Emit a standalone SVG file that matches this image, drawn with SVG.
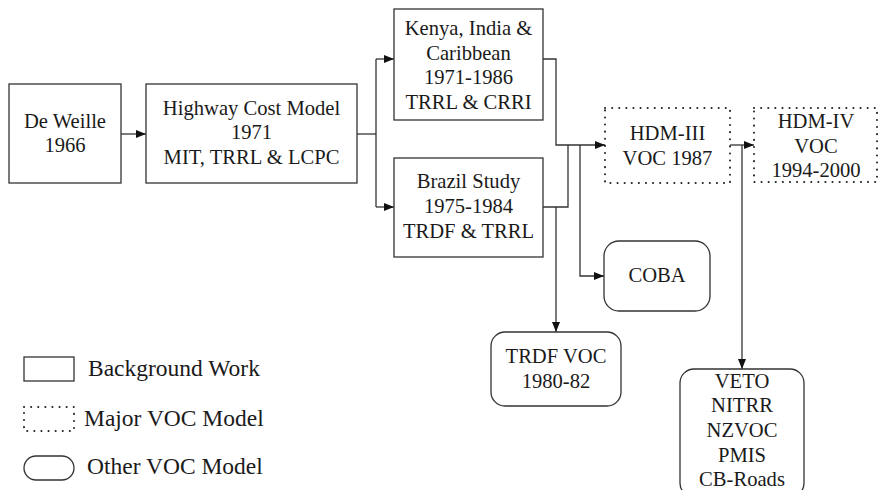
<svg xmlns="http://www.w3.org/2000/svg" width="878" height="490" viewBox="0 0 878 490">
<style>
.box{fill:#fff;stroke:#333;stroke-width:1.3}
.dot{fill:#fff;stroke:#222;stroke-width:2;stroke-dasharray:0.1 7;stroke-linecap:round}
.t{font-family:"Liberation Serif","Times New Roman",serif;font-size:20.6px;fill:#1a1a1a;text-anchor:middle}
.lg{font-family:"Liberation Serif","Times New Roman",serif;font-size:23.5px;fill:#1a1a1a}
.c{fill:none;stroke:#333;stroke-width:1.3}
.a{fill:none;stroke:#333;stroke-width:1.3;marker-end:url(#ah)}
</style>
<defs>
<marker id="ah" viewBox="0 0 10 8" refX="10" refY="4" markerWidth="10" markerHeight="8" markerUnits="userSpaceOnUse" orient="auto">
<path d="M0,0 L10,4 L0,8 Z" fill="#111"/>
</marker>
</defs>
<rect width="878" height="490" fill="#fff"/>
<g id="connectors">
<path class="a" d="M121,134 H146"/>
<path class="c" d="M357,134 H376"/>
<path class="c" d="M376,59 V207"/>
<path class="a" d="M376,59 H394"/>
<path class="a" d="M376,207 H394"/>
<path class="a" d="M543,59 H556 V145 H605"/>
<path class="c" d="M543,207 H568 V145"/>
<path class="a" d="M556,207 V332"/>
<path class="a" d="M580,145 V276 H604"/>
<path class="a" d="M730,145 H754"/>
<path class="a" d="M742,145 V369"/>
</g>
<g id="deweille">
<rect class="box" x="9" y="84" width="112" height="99"/>
<text class="t" x="65" y="128">De Weille</text>
<text class="t" x="65" y="152">1966</text>
</g>
<g id="highway">
<rect class="box" x="146" y="84" width="211" height="99"/>
<text class="t" x="251.5" y="115">Highway Cost Model</text>
<text class="t" x="251.5" y="139">1971</text>
<text class="t" x="251.5" y="164">MIT, TRRL &amp; LCPC</text>
</g>
<g id="kenya">
<rect class="box" x="394" y="9" width="149" height="111"/>
<text class="t" x="468.5" y="35">Kenya, India &amp;</text>
<text class="t" x="468.5" y="60">Caribbean</text>
<text class="t" x="468.5" y="84">1971-1986</text>
<text class="t" x="468.5" y="109">TRRL &amp; CRRI</text>
</g>
<g id="brazil">
<rect class="box" x="394" y="158" width="149" height="99"/>
<text class="t" x="468.5" y="188">Brazil Study</text>
<text class="t" x="468.5" y="213">1975-1984</text>
<text class="t" x="468.5" y="238">TRDF &amp; TRRL</text>
</g>
<g id="hdm3">
<rect class="dot" x="605" y="108" width="125" height="75"/>
<text class="t" x="667.5" y="140">HDM-III</text>
<text class="t" x="667.5" y="165">VOC 1987</text>
</g>
<g id="hdm4">
<rect class="dot" x="754" y="108" width="123" height="74"/>
<text class="t" x="816" y="128">HDM-IV</text>
<text class="t" x="816" y="153">VOC</text>
<text class="t" x="816" y="177">1994-2000</text>
</g>
<g id="coba">
<rect class="box" x="604" y="241" width="106" height="70" rx="15"/>
<text class="t" x="657" y="282">COBA</text>
</g>
<g id="trdfvoc">
<rect class="box" x="491" y="332" width="130" height="74" rx="14"/>
<text class="t" x="556" y="363">TRDF VOC</text>
<text class="t" x="556" y="388">1980-82</text>
</g>
<g id="others">
<rect class="box" x="680" y="369" width="124" height="128" rx="14"/>
<text class="t" x="742" y="388">VETO</text>
<text class="t" x="742" y="412">NITRR</text>
<text class="t" x="742" y="437">NZVOC</text>
<text class="t" x="742" y="462">PMIS</text>
<text class="t" x="742" y="486">CB-Roads</text>
</g>
<g id="legend">
<rect class="box" x="24" y="357" width="50" height="24"/>
<text class="lg" x="88" y="376">Background Work</text>
<rect class="dot" x="24" y="407" width="50" height="24"/>
<text class="lg" x="84" y="426">Major VOC Model</text>
<rect class="box" x="24" y="456" width="50" height="24" rx="12"/>
<text class="lg" x="87" y="474">Other VOC Model</text>
</g>
</svg>
